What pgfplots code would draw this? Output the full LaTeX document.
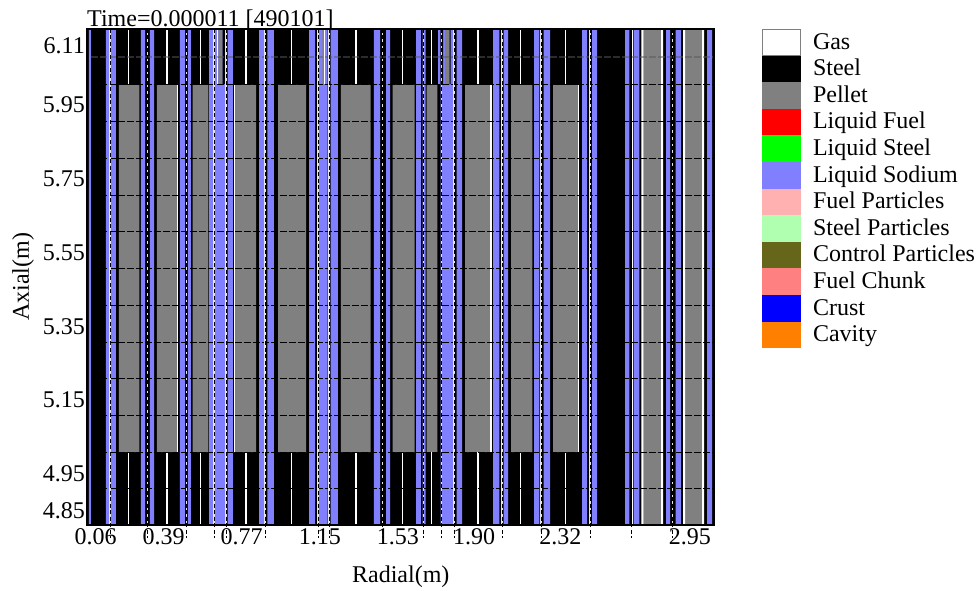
\documentclass[border=0pt]{standalone}
\usepackage{pgfplots}
\pgfplotsset{compat=1.18}
\usepackage{fontspec}
\setmainfont{Liberation Serif}
\definecolor{sodium}{RGB}{128,128,255}
\definecolor{pellet}{RGB}{128,128,128}
\definecolor{fuelpart}{RGB}{255,176,176}
\definecolor{steelpart}{RGB}{176,255,176}
\definecolor{ctrlpart}{RGB}{102,102,26}
\definecolor{chunk}{RGB}{255,128,128}
\definecolor{cavity}{RGB}{255,128,0}
\begin{document}
\begin{tikzpicture}
\useasboundingbox (0pt,0pt) rectangle (979pt,590pt);
\begin{axis}[
  at={(87pt,65pt)}, anchor=south west,
  scale only axis, width=627.5pt, height=496pt,
  xmin=0.0177, xmax=3.0698, ymin=4.8095, ymax=6.1548,
  clip=false, axis on top, unbounded coords=jump,
  axis line style={line width=1.4pt},
  major tick length=0pt, minor tick num=0,
  font=\fontsize{24}{26}\selectfont,
  xtick={0.06,0.39,0.77,1.15,1.53,1.90,2.32,2.95},
  xticklabels={0.06,0.39,0.77,1.15,1.53,1.90,2.32,2.95},
  ytick={4.85,4.95,5.15,5.35,5.55,5.75,5.95,6.11},
  yticklabels={4.85,4.95,5.15,5.35,5.55,5.75,5.95,6.11},
  xticklabel style={inner sep=0pt, yshift=-3.5pt},
  yticklabel style={inner sep=0pt, xshift=-2pt, yshift=-0.7pt},
  xlabel={Radial(m)}, ylabel={Axial(m)},
  xlabel style={at={(axis description cs:0.5,-0.0),}, anchor=base, yshift=-57pt},
  ylabel style={at={(axis description cs:0,0.5)}, anchor=base, yshift=58pt},
  title={Time=0.000011 [490101]},
  title style={at={(axis description cs:0,1)}, anchor=base west, inner sep=0pt, yshift=-4pt},
  legend image code/.code={\fill[draw=none] (0pt,-6.6pt) rectangle (39pt,20pt);},
  legend style={at={(1.0757,1)}, anchor=north west, draw=none, fill=none,
    inner sep=0pt, outer sep=0pt, row sep=0pt, column sep=12pt,
    cells={anchor=base west}, nodes={inner sep=0pt, outer sep=0pt}},
]
% Steel background
\addplot[forget plot, fill=black, draw=none] coordinates {(0.0177,4.8095)(3.0698,4.8095)(3.0698,6.1548)(0.0177,6.1548)} --cycle;
% Liquid sodium, full height
\addplot[forget plot, const plot, fill=sodium, draw=none] coordinates {
(0.0274,4.8095)(0.0274,6.1548)(0.0371,4.8095)
(0.1101,6.1548)(0.1271,4.8095)(0.1344,6.1548)(0.1587,4.8095)
(0.2803,6.1548)(0.2998,4.8095)(0.3241,6.1548)(0.3436,4.8095)
(0.4700,6.1548)(0.4943,4.8095)(0.5089,6.1548)(0.5235,4.8095)
(0.6111,6.1548)(0.6913,4.8095)(0.7011,6.1548)(0.7278,4.8095)
(0.8543,6.1548)(0.8786,4.8095)(0.8946,6.1548)(0.9272,4.8095)
(1.0975,6.1548)(1.1267,4.8095)(1.1437,6.1548)(1.1884,4.8095)(1.2030,6.1548)(1.2385,4.8095)
(1.4136,6.1548)(1.4428,4.8095)(1.4720,6.1548)(1.4915,4.8095)
(1.6179,6.1548)(1.6422,4.8095)(1.6505,6.1548)(1.6651,4.8095)
(1.7381,6.1548)(1.8003,4.8095)(1.8159,6.1548)(1.8417,4.8095)
(1.9925,6.1548)(2.0231,4.8095)(2.0445,6.1548)(2.0654,4.8095)
(2.1919,6.1548)(2.2177,4.8095)(2.2391,6.1548)(2.2697,4.8095)
(2.4253,6.1548)(2.4497,4.8095)(2.4740,6.1548)(2.4983,4.8095)
(2.6345,6.1548)(2.6554,4.8095)(2.6768,6.1548)(2.7041,4.8095)
(2.8339,6.1548)(2.8534,4.8095)(2.8811,6.1548)(2.9069,4.8095)
(3.0333,6.1548)(3.0577,4.8095)} --cycle;
% Pellet, core height
\addplot[forget plot, const plot, fill=pellet, draw=none] coordinates {
(0.1733,5.0075)(0.1733,6.0029)(0.2721,5.0075)
(0.3581,6.0029)(0.4554,5.0075)
(0.5318,6.0029)(0.6076,5.0075)
(0.7375,6.0029)(0.8397,5.0075)
(0.9467,6.0029)(1.0829,5.0075)
(1.2531,6.0029)(1.3966,5.0075)
(1.5046,6.0029)(1.6106,5.0075)
(1.6700,6.0029)(1.7215,5.0075)
(1.8563,6.0029)(1.9803,5.0075)
(2.0800,6.0029)(2.1836,5.0075)
(2.2843,6.0029)(2.4059,5.0075)} --cycle;
% Pellet, full height
\addplot[forget plot, const plot, fill=pellet, draw=none] coordinates {
(2.7255,4.8095)(2.7255,6.1548)(2.8096,4.8095)
(2.9263,6.1548)(3.0090,4.8095)} --cycle;
% Gas, full-height gaps
\addplot[forget plot, const plot, fill=white, draw=none] coordinates {
(2.7138,4.8095)(2.7138,6.1548)(2.7255,4.8095)
(2.8096,6.1548)(2.8193,4.8095)
(2.9166,6.1548)(2.9263,4.8095)
(3.0090,6.1548)(3.0188,4.8095)} --cycle;
% Upper zone: steel in the gaps
\addplot[forget plot, const plot, fill=black, draw=none] coordinates {
(0.6757,6.0056)(0.6757,6.1548)(0.6913,6.0056)
(1.7361,6.1548)(1.7493,6.0056)
(1.7799,6.1548)(1.7857,6.0056)} --cycle;
% Upper zone: sodium
\addplot[forget plot, const plot, fill=sodium, draw=none] coordinates {
(1.7249,6.0056)(1.7249,6.1548)(1.7361,6.0056)} --cycle;
% Upper zone: pellet slices
\addplot[forget plot, const plot, fill=pellet, draw=none] coordinates {
(0.6563,6.0056)(0.6563,6.1548)(0.6757,6.0056)
(1.1622,6.1548)(1.1719,6.0056)
(1.7590,6.1548)(1.7799,6.0056)} --cycle;
% Gas lines in the steel zones
\addplot[forget plot, white, line width=1.3pt] coordinates {
(0.2205,6.1548)(0.2205,6.0056)(0.2205,nan)(0.2205,5.0075)(0.2205,4.8095)(0.2205,nan)
(0.4068,6.1548)(0.4068,6.0056)(0.4068,nan)(0.4068,5.0075)(0.4068,4.8095)(0.4068,nan)
(0.5688,6.1548)(0.5688,6.0056)(0.5688,nan)(0.5688,5.0075)(0.5688,4.8095)(0.5688,nan)
(0.7910,6.1548)(0.7910,6.0056)(0.7910,nan)(0.7910,5.0075)(0.7910,4.8095)(0.7910,nan)
(1.0133,6.1548)(1.0133,6.0056)(1.0133,nan)(1.0133,5.0075)(1.0133,4.8095)(1.0133,nan)
(1.3261,6.1548)(1.3261,6.0056)(1.3261,nan)(1.3261,5.0075)(1.3261,4.8095)(1.3261,nan)
(1.5532,6.1548)(1.5532,6.0056)(1.5532,nan)(1.5532,5.0075)(1.5532,4.8095)(1.5532,nan)
(1.6923,6.1548)(1.6923,6.0056)(1.6923,nan)(1.6923,5.0075)(1.6923,4.8095)(1.6923,nan)
(1.9195,6.1548)(1.9195,6.0056)(1.9195,nan)(1.9195,5.0075)(1.9195,4.8095)(1.9195,nan)
(2.1272,6.1548)(2.1272,6.0056)(2.1272,nan)(2.1272,5.0075)(2.1272,4.8095)(2.1272,nan)
(2.3461,6.1548)(2.3461,6.0056)(2.3461,nan)(2.3461,5.0075)(2.3461,4.8095)(2.3461,nan)
(0.6539,6.1548)(0.6539,6.0056)(0.6539,nan)
(1.1743,6.1548)(1.1743,6.0056)(1.1743,nan)
(0.4588,6.0029)(0.4588,5.0075)(0.4588,nan)
(0.7361,6.0029)(0.7361,5.0075)(0.7361,nan)
(1.9822,6.0029)(1.9822,5.0075)(1.9822,nan)
(2.4093,6.0029)(2.4093,5.0075)(2.4093,nan)
(2.6700,6.1548)(2.6700,4.8095)};
% Horizontal mesh lines
\addplot[forget plot, black, line width=0.9pt, dash pattern=on 7pt off 2pt] coordinates {
(0.0371,6.0056)(3.0577,6.0056)(3.0577,nan)
(0.0371,5.9052)(3.0577,5.9052)(3.0577,nan)
(0.0371,5.8050)(3.0577,5.8050)(3.0577,nan)
(0.0371,5.7045)(3.0577,5.7045)(3.0577,nan)
(0.0371,5.6069)(3.0577,5.6069)(3.0577,nan)
(0.0371,5.5065)(3.0577,5.5065)(3.0577,nan)
(0.0371,5.4062)(3.0577,5.4062)(3.0577,nan)
(0.0371,5.3058)(3.0577,5.3058)(3.0577,nan)
(0.0371,5.2082)(3.0577,5.2082)(3.0577,nan)
(0.0371,5.1078)(3.0577,5.1078)(3.0577,nan)
(0.0371,5.0075)(3.0577,5.0075)(3.0577,nan)
(0.0371,4.9099)(3.0577,4.9099)};
\addplot[forget plot, black!65, opacity=0.5, line width=2pt, dash pattern=on 7pt off 2pt] coordinates {(0.0371,6.0790)(3.0577,6.0790)};
% Vertical mesh lines: white under, black dashes over, running past the axis
\addplot[forget plot, white!80!gray, line width=1.3pt] coordinates {
(0.1295,6.1548)(0.1295,4.8095)(0.1295,nan)
(0.3129,6.1548)(0.3129,4.8095)(0.3129,nan)
(0.5007,6.1548)(0.5007,4.8095)(0.5007,nan)
(0.6354,6.1548)(0.6354,4.8095)(0.6354,nan)
(0.6938,6.1548)(0.6938,4.8095)(0.6938,nan)
(0.8835,6.1548)(0.8835,4.8095)(0.8835,nan)
(1.1413,6.1548)(1.1413,4.8095)(1.1413,nan)
(1.1948,6.1548)(1.1948,4.8095)(1.1948,nan)
(1.4560,6.1548)(1.4560,4.8095)(1.4560,nan)
(1.6535,6.1548)(1.6535,4.8095)(1.6535,nan)
(1.7410,6.1548)(1.7410,4.8095)(1.7410,nan)
(1.8028,6.1548)(1.8028,4.8095)(1.8028,nan)
(2.0362,6.1548)(2.0362,4.8095)(2.0362,nan)
(2.2259,6.1548)(2.2259,4.8095)(2.2259,nan)
(2.4643,6.1548)(2.4643,4.8095)(2.4643,nan)
(2.8665,6.1548)(2.8665,4.8095)};
\addplot[forget plot, black, line width=0.9pt, dash pattern=on 4pt off 2.5pt] coordinates {
(0.1295,6.1548)(0.1295,4.7742)(0.1295,nan)
(0.3129,6.1548)(0.3129,4.7742)(0.3129,nan)
(0.5007,6.1548)(0.5007,4.7742)(0.5007,nan)
(0.6354,6.1548)(0.6354,4.7742)(0.6354,nan)
(0.6938,6.1548)(0.6938,4.7742)(0.6938,nan)
(0.8835,6.1548)(0.8835,4.7742)(0.8835,nan)
(1.1413,6.1548)(1.1413,4.7742)(1.1413,nan)
(1.1948,6.1548)(1.1948,4.7742)(1.1948,nan)
(1.4560,6.1548)(1.4560,4.7742)(1.4560,nan)
(1.6535,6.1548)(1.6535,4.7742)(1.6535,nan)
(1.7410,6.1548)(1.7410,4.7742)(1.7410,nan)
(1.8028,6.1548)(1.8028,4.7742)(1.8028,nan)
(2.0362,6.1548)(2.0362,4.7742)(2.0362,nan)
(2.2259,6.1548)(2.2259,4.7742)(2.2259,nan)
(2.4643,6.1548)(2.4643,4.7742)(2.4643,nan)
(2.6637,6.1548)(2.6637,4.7742)(2.6637,nan)
(2.8665,6.1548)(2.8665,4.7742)};
% Legend
\addlegendimage{legend image code/.code={\path[fill=white,draw=gray,line width=0.8pt] (0.4pt,-6.2pt) rectangle (38.6pt,19.6pt);}}
\addlegendentry{Gas}
\addlegendimage{fill=black}\addlegendentry{Steel}
\addlegendimage{fill=pellet}\addlegendentry{Pellet}
\addlegendimage{fill=red}\addlegendentry{Liquid Fuel}
\addlegendimage{fill=green}\addlegendentry{Liquid Steel}
\addlegendimage{fill=sodium}\addlegendentry{Liquid Sodium}
\addlegendimage{fill=fuelpart}\addlegendentry{Fuel Particles}
\addlegendimage{fill=steelpart}\addlegendentry{Steel Particles}
\addlegendimage{fill=ctrlpart}\addlegendentry{Control Particles}
\addlegendimage{fill=chunk}\addlegendentry{Fuel Chunk}
\addlegendimage{fill=blue}\addlegendentry{Crust}
\addlegendimage{fill=cavity}\addlegendentry{Cavity}
\end{axis}
\end{tikzpicture}
\end{document}
